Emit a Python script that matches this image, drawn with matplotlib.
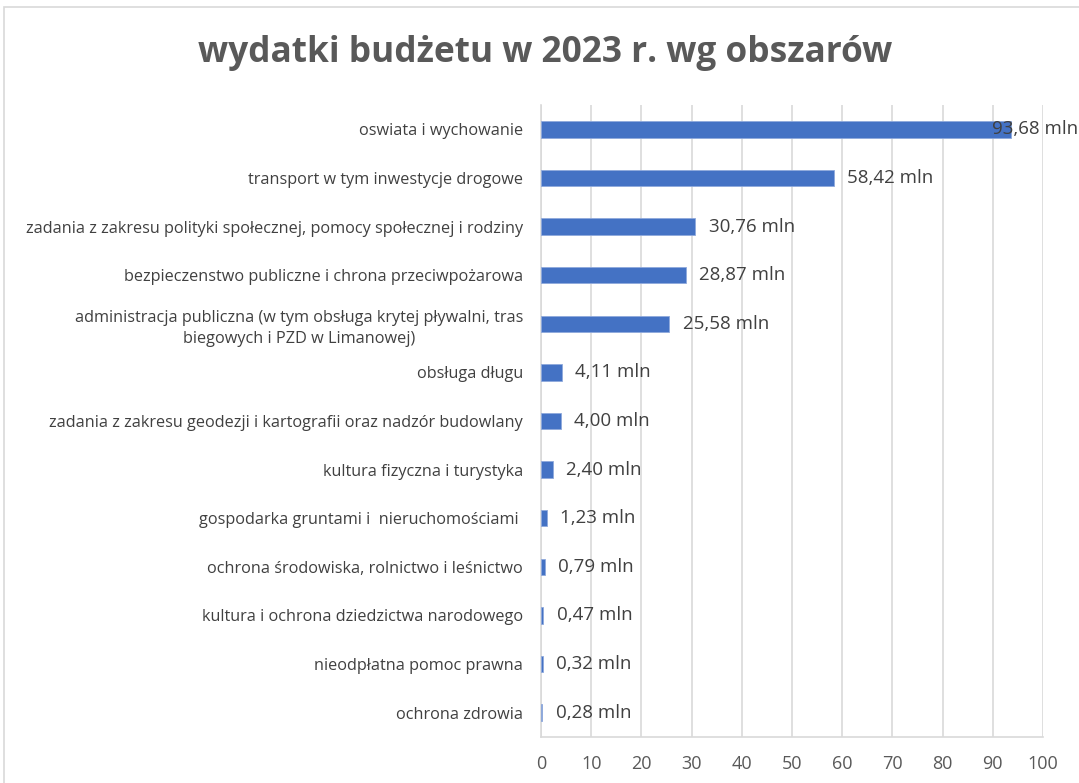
import matplotlib
matplotlib.use("Agg")
import matplotlib.pyplot as plt
from matplotlib.patches import Rectangle

categories = [
    "oswiata i wychowanie",
    "transport w tym inwestycje drogowe",
    "zadania z zakresu polityki społecznej, pomocy społecznej i rodziny",
    "bezpieczenstwo publiczne i chrona przeciwpożarowa",
    "administracja publiczna (w tym obsługa krytej pływalni, tras\nbiegowych i PZD w Limanowej)",
    "obsługa długu",
    "zadania z zakresu geodezji i kartografii oraz nadzór budowlany",
    "kultura fizyczna i turystyka",
    "gospodarka gruntami i  nieruchomościami ",
    "ochrona środowiska, rolnictwo i leśnictwo",
    "kultura i ochrona dziedzictwa narodowego",
    "nieodpłatna pomoc prawna",
    "ochrona zdrowia",
]
values = [93.68, 58.42, 30.76, 28.87, 25.58, 4.11, 4.00, 2.40, 1.23, 0.79, 0.47, 0.32, 0.28]
value_labels = ["93,68 mln", "58,42 mln", "30,76 mln", "28,87 mln", "25,58 mln", "4,11 mln",
                "4,00 mln", "2,40 mln", "1,23 mln", "0,79 mln", "0,47 mln", "0,32 mln", "0,28 mln"]
xticks = [0, 10, 20, 30, 40, 50, 60, 70, 80, 90, 100]

plt.rcParams['font.family'] = ['Open Sans', 'DejaVu Sans']

fig = plt.figure(figsize=(10.79, 7.83), dpi=100)
W, H = 1079, 783
ax = fig.add_axes([541 / W, 1 - 737 / H, (1043 - 541) / W, (737 - 105) / H])

# outer chart border
fig.patches.append(Rectangle((4 / W, -0.01), 1.0, 1 - 7 / H + 0.01, transform=fig.transFigure,
                             fill=False, edgecolor="#d9d9d9", linewidth=1.2))

ypos = list(range(len(categories)))
ax.barh(ypos, values, height=0.34, color="#4472C4", edgecolor="#8fa9dc", linewidth=0.6, zorder=3)
ax.set_ylim(len(categories) - 0.5, -0.5)
ax.set_xlim(0, 100)
ax.set_xticks(xticks)
ax.set_xticklabels([str(t) for t in xticks], fontsize=13, color="#595959")
ax.set_yticks(ypos)
ax.set_yticklabels(categories, fontsize=11.7, color="#404040", multialignment="center",
                   linespacing=1.4)
ax.tick_params(axis="both", length=0)
ax.tick_params(axis="x", pad=13)
ax.tick_params(axis="y", pad=13)
ax.grid(axis="x", color="#d9d9d9", linewidth=1.2, zorder=0)
for s in ["top", "right"]:
    ax.spines[s].set_visible(False)
ax.spines["left"].set_color("#d9d9d9")
ax.spines["bottom"].set_color("#d9d9d9")
ax.spines["left"].set_linewidth(1.2)
ax.spines["bottom"].set_linewidth(1.2)

for i, (v, lab) in enumerate(zip(values, value_labels)):
    if i == 0:
        ax.annotate(lab, xy=(1078 / W, i), xycoords=("figure fraction", "data"),
                    ha="right", va="center", fontsize=13.5, color="#404040", zorder=4)
    else:
        ax.annotate(lab, xy=(v, i), xytext=(9.5, 0), textcoords="offset points",
                    ha="left", va="center", fontsize=13.5, color="#404040", zorder=4)

fig.text(545 / W, 1 - 53 / H, "wydatki budżetu w 2023 r. wg obszarów", ha="center", va="center",
         fontsize=25.4, fontweight="bold", color="#595959")

fig.savefig("out.png", dpi=100)
